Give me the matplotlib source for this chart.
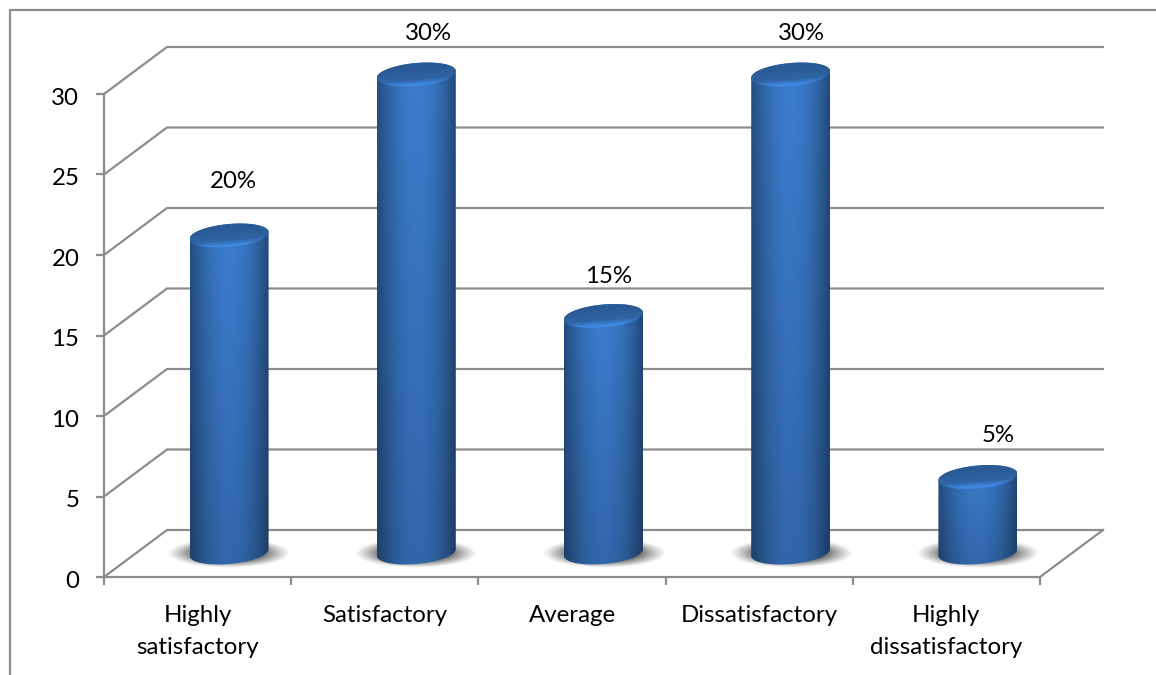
import numpy as np
import matplotlib
matplotlib.use("Agg")
import matplotlib.pyplot as plt
from matplotlib.patches import PathPatch
from matplotlib.path import Path
from matplotlib.transforms import ScaledTranslation

# Survey results
categories = ["Highly\nsatisfactory", "Satisfactory", "Average",
              "Dissatisfactory", "Highly\ndissatisfactory"]
values = [20, 30, 15, 30, 5]
value_labels = ["20%", "30%", "15%", "30%", "5%"]
y_ticks = [0, 5, 10, 15, 20, 25, 30]

W, H = 1156, 675
plt.rcParams["font.family"] = ["Lato", "DejaVu Sans"]
GREY = "#8c8c8c"
LW = 1.6
TEXT = 17.3

fig = plt.figure(figsize=(W / 100, H / 100), dpi=100, facecolor="white")

# Outer frame runs off the right and bottom edges of the canvas
fig.add_artist(plt.Line2D([10 / W, 10 / W, 1], [0, 1 - 10 / H, 1 - 10 / H],
                          color=GREY, lw=LW, transform=fig.transFigure))

# Front plane of the pseudo-3D chart
L, R, T, B = 104, 1040, 94, 577
ax = fig.add_axes([L / W, 1 - B / H, (R - L) / W, (B - T) / H])
ax.set_xlim(0, len(categories))
ax.set_ylim(0, 30)
ax.set_facecolor("none")
for s in ("top", "right"):
    ax.spines[s].set_visible(False)
for s in ("left", "bottom"):
    ax.spines[s].set_color(GREY)
    ax.spines[s].set_linewidth(LW)

ux = len(categories) / (R - L)   # data units per pixel, horizontally
uy = 30 / (B - T)                # data units per pixel, vertically
DX, DY = 63 * ux, 47 * uy        # depth of the floor and back wall

ax.set_yticks(y_ticks)
ax.set_xticks(range(len(categories) + 1))
ax.set_xticklabels([])
ax.set_xticks(np.arange(len(categories)) + 0.5, categories, minor=True)
ax.tick_params(axis="both", which="major", length=5.8, width=LW, color=GREY,
               labelsize=TEXT, labelcolor="black")
ax.tick_params(axis="y", which="major", pad=12)
ax.tick_params(axis="x", which="minor", length=0, labelsize=TEXT, pad=20)
for lab in ax.get_xticklabels(minor=True):
    lab.set_linespacing(1.68)
    lab.set_verticalalignment("top")
nudge = ScaledTranslation(0, -1.5 / 72, fig.dpi_scale_trans)
for lab in ax.get_yticklabels():
    lab.set_transform(lab.get_transform() + nudge)

# Side wall, back wall and floor
for t in y_ticks:
    ax.plot([0, DX, 5 + DX], [t, t + DY, t + DY], color=GREY, lw=LW,
            clip_on=False, zorder=1, solid_joinstyle="miter")
ax.plot([5, 5 + DX], [0, DY], color=GREY, lw=LW, clip_on=False, zorder=1)

WIDTH_SHADE = np.array([0.62, 0.74, 0.85, 0.93, 0.98, 1.0, 0.98, 0.93, 0.85, 0.73, 0.58])
A_PX, B_PX, SLOPE = 39.5, 11.5, 0.085


def arc(cx, cy, t0, t1, n=60):
    """Points on a slightly tilted ellipse, in data units."""
    t = np.linspace(t0, t1, n)
    xo = A_PX * np.cos(t)
    yo = B_PX * np.sin(t) + SLOPE * xo
    return np.column_stack([cx + xo * ux, cy + yo * uy])


def clipped_image(arr, extent, clip, z):
    im = ax.imshow(arr, extent=extent, origin="lower", aspect="auto",
                   zorder=z, interpolation="bilinear")
    im.set_clip_box(fig.bbox)
    im.set_clip_path(PathPatch(Path(np.vstack([clip, clip[:1]])), transform=ax.transData))
    return im


for i, v in enumerate(values):
    cx = i + 0.5 + DX / 2
    y0 = DY / 2 + 1 * uy
    y1 = v + DY / 2 - 4 * uy

    # Soft shadow on the floor
    sw, sh = 62 * ux, 15 * uy
    X, Y = np.meshgrid(np.linspace(-1, 1, 160), np.linspace(-1, 1, 80))
    r = np.hypot(X, Y)
    rgba = np.zeros((80, 160, 4))
    rgba[..., :3] = 0.30
    rgba[..., 3] = 0.95 * np.clip((1 - r) / 0.5, 0, 1) ** 1.15
    ax.imshow(rgba, extent=(cx - sw, cx + sw, y0 - 1 * uy - sh, y0 - 1 * uy + sh), origin="lower",
              aspect="auto", zorder=2, interpolation="bilinear")

    # Cylinder body: shaded across its width, a little darker towards the base
    xs = np.linspace(0, 1, 120)
    prof = np.interp(xs, np.linspace(0, 1, len(WIDTH_SHADE)), WIDTH_SHADE)
    vert = np.linspace(0.82, 1.0, 60)
    top_rgb = np.array([60, 126, 208]) / 255
    body = np.clip(prof[None, :, None] * vert[:, None, None] * top_rgb, 0, 1)
    outline = np.vstack([arc(cx, y1, np.pi, 0), arc(cx, y0, 0, -np.pi)])
    clipped_image(body, (cx - A_PX * ux, cx + A_PX * ux, y0 - 14 * uy, y1 + 14 * uy), outline, 3)

    # Top cap: dark centre with a pale rim along the front edge
    cap = arc(cx, y1, 0, 2 * np.pi, 120)
    X, Y = np.meshgrid(np.linspace(-1, 1, 120), np.linspace(-1, 1, 60))
    Yt = Y - 0.2 * X
    shade = np.interp(Yt, [-1.15, -0.85, -0.68, -0.3, 0.5, 1.1],
                      [0.95, 1.02, 1.12, 0.80, 0.72, 0.82])
    base = np.array([58, 124, 204]) / 255
    capimg = np.clip(shade[..., None] * base, 0, 1)
    clipped_image(capimg, (cx - A_PX * ux, cx + A_PX * ux,
                           y1 - (B_PX + 4) * uy, y1 + (B_PX + 4) * uy), cap, 4)

# Value labels, placed clear of the cylinder tops
label_gap = [50, 37, 35, 37, 38]
label_shift = [4, 12, 5, 11, 20]
for i, (v, lab) in enumerate(zip(values, value_labels)):
    ax.text(i + 0.5 + DX / 2 + label_shift[i] * ux,
            v + DY / 2 + label_gap[i] * uy, lab,
            ha="center", va="center", fontsize=TEXT, color="black",
            clip_on=False, zorder=6)

ax.set_xlim(0, len(categories))
ax.set_ylim(0, 30)
fig.savefig("out.png", dpi=100, facecolor="white")
